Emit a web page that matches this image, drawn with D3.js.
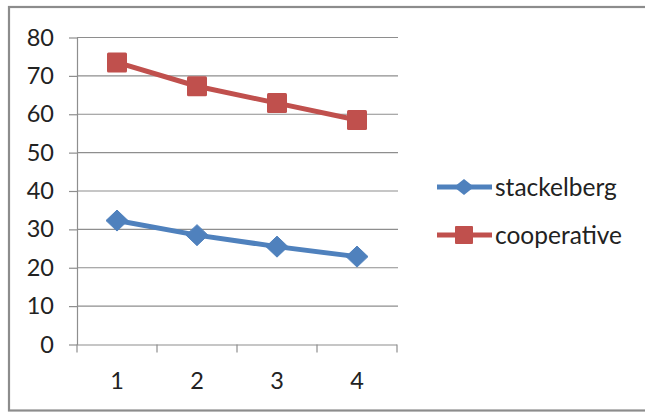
<!DOCTYPE html>
<html><head><meta charset="utf-8">
<script src="https://cdn.jsdelivr.net/npm/d3@7"></script>
<style>html,body{margin:0;padding:0;background:#fff;}svg{display:block;}</style>
</head><body>
<svg id="chart" width="645" height="412"></svg>
<script>
const categories = ["1","2","3","4"];
const stackelberg = [32.3, 28.5, 25.5, 22.9];
const cooperative = [73.5, 67.3, 62.9, 58.5];
const yTicks = [0,10,20,30,40,50,60,70,80];
const seriesNames = ["stackelberg","cooperative"];
const colors = ["#4F81BD","#C0504D"];

const svg = d3.select("#chart");
const font = "Lato, 'Open Sans', sans-serif";

// outer frame
svg.append("rect").attr("x",9).attr("y",7).attr("width",660).attr("height",403.5)
  .attr("fill","#fff").attr("stroke","#8c8c8c").attr("stroke-width",2.2);

const x = d3.scaleBand().domain(categories).range([77,397]);
const y = d3.scaleLinear().domain([0,80]).range([344.5,37.5]);

// gridlines
svg.append("g").selectAll("line").data(yTicks.filter(d=>d>0)).join("line")
  .attr("x1",77).attr("x2",398).attr("y1",d=>y(d)).attr("y2",d=>y(d))
  .attr("stroke","#8e8e8e").attr("stroke-width",1.2);

// y axis
const yAxis = d3.axisLeft(y).tickValues(yTicks).tickSize(8).tickPadding(15).tickSizeOuter(0);
const gy = svg.append("g").attr("transform","translate(77,0)").call(yAxis);
gy.select(".domain").attr("stroke","#8e8e8e").attr("stroke-width",1.2);
gy.selectAll(".tick line").attr("stroke","#8e8e8e").attr("stroke-width",1.2);
gy.selectAll("text").attr("font-family",font).attr("font-size",23.5).attr("fill","#222");

// x axis
const xAxis = d3.axisBottom(x).tickSize(0).tickPadding(0);
const gx = svg.append("g").attr("transform","translate(0,344.5)").call(xAxis);
gx.select(".domain").attr("d","M77,0.5H397").attr("stroke","#8e8e8e").attr("stroke-width",1.2);
gx.selectAll(".tick text").attr("font-family",font).attr("font-size",23.5).attr("fill","#222").attr("dy",0).attr("y",44);
// x boundary ticks
const bounds = categories.map(c=>x(c)).concat([x(categories[categories.length-1])+x.bandwidth()]);
gx.selectAll(".btick").data(bounds).join("line").attr("class","btick")
  .attr("x1",d=>d).attr("x2",d=>d).attr("y1",0).attr("y2",8)
  .attr("stroke","#8e8e8e").attr("stroke-width",1.2);

const cx = d => x(d) + x.bandwidth()/2;
const line = d3.line().x((d,i)=>cx(categories[i])).y(d=>y(d));

const diamond = (px,py,r,ry) => `M${px},${py-ry}L${px+r},${py}L${px},${py+ry}L${px-r},${py}Z`;

// stackelberg
svg.append("path").datum(stackelberg).attr("d",line).attr("fill","none")
  .attr("stroke",colors[0]).attr("stroke-width",5).attr("stroke-linejoin","round");
svg.append("g").selectAll("path").data(stackelberg).join("path")
  .attr("d",(d,i)=>diamond(cx(categories[i]),y(d),11,10.5)).attr("fill",colors[0]).attr("stroke",colors[0]).attr("stroke-width",1);

// cooperative
svg.append("path").datum(cooperative).attr("d",line).attr("fill","none")
  .attr("stroke",colors[1]).attr("stroke-width",5).attr("stroke-linejoin","round");
svg.append("g").selectAll("rect").data(cooperative).join("rect")
  .attr("x",(d,i)=>cx(categories[i])-10).attr("y",d=>y(d)-10).attr("width",20).attr("height",20)
  .attr("rx",1.5).attr("fill",colors[1]);

// legend
const legY = [187, 235];
const lg = svg.append("g");
seriesNames.forEach((name,i)=>{
  const ly = legY[i];
  lg.append("line").attr("x1",437).attr("x2",492).attr("y1",ly).attr("y2",ly)
    .attr("stroke",colors[i]).attr("stroke-width",5);
  if(i===0){
    lg.append("path").attr("d",diamond(464,ly,10,8)).attr("fill",colors[i]);
  } else {
    lg.append("rect").attr("x",455).attr("y",ly-9).attr("width",18).attr("height",18).attr("rx",1).attr("fill",colors[i]);
  }
  lg.append("text").attr("x",495).attr("y",ly).attr("dy","0.35em")
    .attr("font-family",font).attr("font-size",24.5).attr("fill","#222").text(name);
});
</script>
</body></html>
